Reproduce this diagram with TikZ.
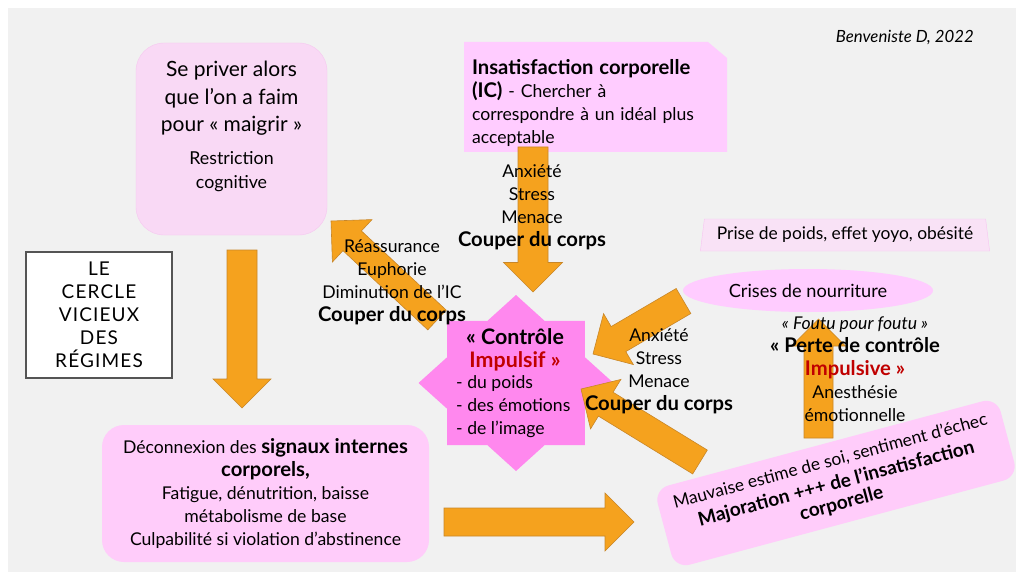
\documentclass[tikz,border=0pt]{standalone}
\usepackage{fontspec}
\setmainfont{Lato}[BoldFeatures={Scale=1.15}]
\newfontfamily\capsfont[LetterSpace=6]{Lato}
\usepackage{tikz}
\usetikzlibrary{positioning}
\usetikzlibrary{calc}
\usetikzlibrary{shapes.geometric}
\definecolor{bggrey}{RGB}{241,241,241}
\definecolor{softpink}{RGB}{249,217,245}
\definecolor{softline}{RGB}{246,200,240}
\definecolor{boxpink}{RGB}{255,204,250}
\definecolor{icpink}{RGB}{255,204,255}
\definecolor{starpink}{RGB}{255,136,238}
\definecolor{paleline}{RGB}{248,196,242}
\definecolor{palepink}{RGB}{249,226,246}
\definecolor{arrowfill}{RGB}{245,162,30}
\definecolor{arrowline}{RGB}{200,134,40}
\definecolor{impred}{RGB}{192,0,0}
\definecolor{framegrey}{RGB}{85,85,85}

% block arrow: tail, tip, half shaft, half head
\newcommand{\fatarrow}[4]{%
  \path ($(#2)!#4!(#1)$) coordinate (hb);
  \draw[bigarrow] ($(#1)!#3!90:(#2)$) -- ($(hb)!#3!90:(#2)$) -- ($(hb)!#4!90:(#2)$)
    -- (#2) -- ($(hb)!#4!-90:(#2)$) -- ($(hb)!#3!-90:(#2)$) -- ($(#1)!#3!-90:(#2)$) -- cycle;}

\begin{document}
\begin{tikzpicture}[x=1pt,y=-1pt,
                lbl/.style={align=center,inner sep=0pt,
                    font=\fontsize{17.6}{23}\selectfont},
                bigarrow/.style={fill=arrowfill,draw=arrowline,line width=0.6pt},
                pbox/.style n args={3}{rectangle,fill=boxpink,
                    minimum width=#1,minimum height=#2,
                    rounded corners=#3,inner sep=0pt}]
    \fill[white] (0,0) rectangle (1016,572);
    \fill[bggrey] (8,8) rectangle (1016,572);
    \useasboundingbox (0,0) rectangle (1016,572);

    % boxes
    \node[pbox={191}{192}{28},fill=softpink,draw=softline] (diet) at (231.5,139) {};
    \node[lbl,font=\fontsize{21}{27.5}\selectfont] (diettxt) at (231.5,98.5)
        {Se priver alors\\que l’on a faim\\pour «~maigrir~»};
    \node[lbl,font=\fontsize{17.8}{24}\selectfont] (restr) at (231.5,172) {Restriction\\cognitive};

    \node[draw=framegrey,line width=2.5pt,fill=white,minimum width=146,minimum height=126,
        align=center,inner sep=0pt,font=\capsfont\fontsize{19}{23}\selectfont] (title) at (99,315)
        {LE\\CERCLE\\VICIEUX\\DES\\RÉGIMES};

    \fill[icpink] (464,42) -- (708,42) -- (727,58) -- (727,152) -- (464,152) -- cycle;
    \node[lbl,text width=250,align=left] (ic) at (597,102.5)
        {\textbf{Insatisfaction corporelle}\\\textbf{(IC)} - Chercher à\\correspondre à un idéal plus\\acceptable};

    \node[trapezium,trapezium stretches=true,trapezium left angle=77,trapezium right angle=77,
        minimum width=290,minimum height=32,inner sep=0pt,fill=palepink,draw=paleline,
        font=\fontsize{17.4}{20}\selectfont] (gain) at (845,235) {Prise de poids, effet yoyo, obésité};
    \node[ellipse,fill=icpink,minimum width=250,minimum height=43,inner sep=0pt,
        font=\fontsize{18.2}{20}\selectfont] (binge) at (808,290.5) {Crises de nourriture};

    \node[pbox={327}{137}{22},lbl] (disc) at (265.5,493.5)
        {Déconnexion des \textbf{signaux internes}\\\textbf{corporels,}\\Fatigue, dénutrition, baisse\\métabolisme de base\\Culpabilité si violation d’abstinence};
    \node[pbox={355}{82}{15},rotate=15,align=center,font=\bfseries\fontsize{16.6}{20.5}\selectfont] (esteem) at (836,483)
        {\mdseries\fontsize{17.4}{21}\selectfont Mauvaise estime de soi, sentiment d’échec\\[3pt]Majoration +++ de l’insatisfaction\\corporelle};

    \fill[starpink,shift={(516,383)},xscale=97.5,yscale=88] (90:1)
        \foreach \k in {1,...,15}{ -- ({90+22.5*\k}:{ifthenelse(mod(\k,2)==0,1,0.765)}) } -- cycle;

    % arrows
    \coordinate (diet-out) at (242,250);   \coordinate (disc-in) at (242,408);
    \coordinate (disc-out) at (444,522);   \coordinate (esteem-in) at (634,522);
    \coordinate (esteem-out) at (700,462); \coordinate (ctrl-in1) at (581,389);
    \coordinate (binge-out) at (683.5,301);\coordinate (ctrl-in2) at (593,354);
    \coordinate (ctrl-out) at (437,320);   \coordinate (diet-in) at (331,221);
    \coordinate (ic-out) at (533,147);     \coordinate (ctrl-in3) at (533,292);
    \coordinate (esteem-up) at (818.5,438);\coordinate (binge-in) at (818.5,319);
    \fatarrow{diet-out}{disc-in}{15pt}{29pt}
    \fatarrow{disc-out}{esteem-in}{14pt}{29pt}
    \fatarrow{esteem-out}{ctrl-in1}{14pt}{29pt}
    \fatarrow{binge-out}{ctrl-in2}{14.5pt}{29.5pt}
    \fatarrow{ctrl-out}{diet-in}{13.5pt}{29pt}
    \fatarrow{ic-out}{ctrl-in3}{15pt}{29.5pt}
    \fatarrow{esteem-up}{binge-in}{14.5pt}{27pt}

    % labels
    \node[lbl] (calm) at (392,282.5) {Réassurance\\Euphorie\\Diminution de l’IC\\\textbf{Couper du corps}};
    \node[lbl] (stressA) at (532,207.5) {Anxiété\\Stress\\Menace\\\textbf{Couper du corps}};
    \node[lbl] (stressB) at (659,371.5) {Anxiété\\Stress\\Menace\\\textbf{Couper du corps}};
    \node[lbl] (loss) at (855,369.5) {\textit{«~Foutu pour foutu~»}\\\textbf{«~Perte de contrôle}\\
        \textcolor{impred}{\textbf{Impulsive~»}}\\Anesthésie\\émotionnelle};
    \node[lbl,font=\bfseries\fontsize{18.6}{23}\selectfont] (ctrl) at (515,349.5)
        {«~Contrôle\\\textcolor{impred}{Impulsif~»}};
    \node[lbl,align=left,anchor=west] (ctrllist) at (456,406.5) {- du poids\\- des émotions\\- de l’image};
    \node[inner sep=0pt,anchor=east,font=\itshape\fontsize{16.8}{18}\selectfont] (cite) at (974,38)
        {Benveniste D, 2022};
\end{tikzpicture}
\end{document}
